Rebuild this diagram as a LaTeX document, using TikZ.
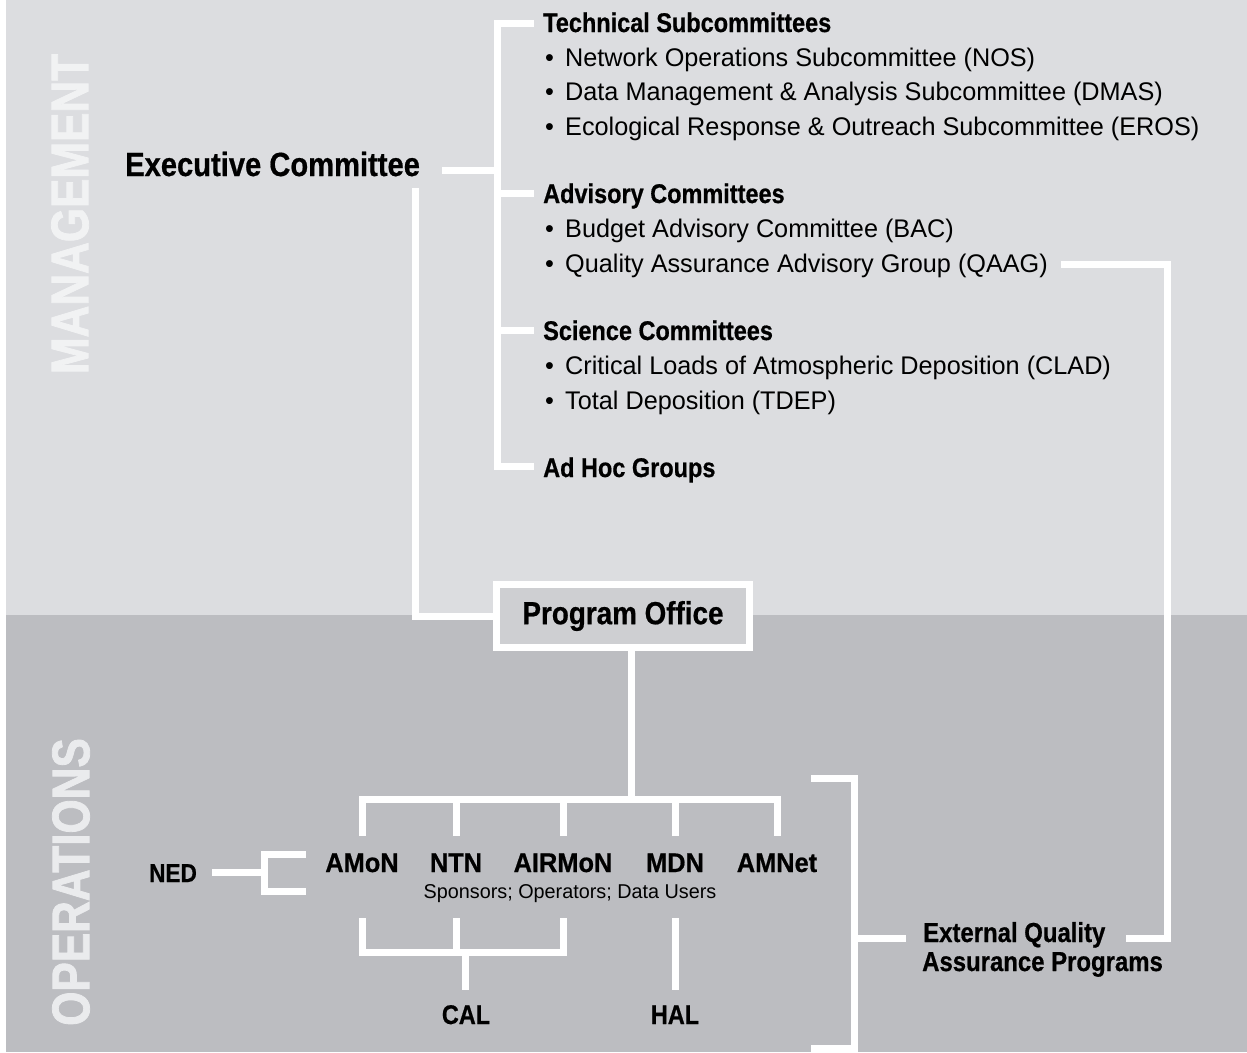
\documentclass[tikz,border=0pt]{standalone}
\usepackage{fontspec}
\setmainfont{Liberation Sans}
\newfontfamily\bcond{Liberation Sans Bold}[FakeStretch=0.87,FakeBold=0.6]
\newfontfamily\bnet{Liberation Sans Bold}[FakeStretch=0.94,FakeBold=0.6]
\newfontfamily\bside{Liberation Sans Bold}[FakeStretch=0.83,FakeBold=1.5]
\newfontfamily\rcond{Liberation Sans}[FakeStretch=0.99]
\definecolor{bgtop}{HTML}{DCDDE0}
\definecolor{bgbot}{HTML}{BCBDC1}
\definecolor{pofill}{HTML}{CECFD2}
\definecolor{sidetop}{HTML}{F1F2F3}
\definecolor{sidebot}{HTML}{EAEBED}
\newcommand{\bul}{\makebox[20pt][l]{•}}
\begin{document}
\begin{tikzpicture}[x=1pt,y=-1pt,
  wl/.style={draw=white,line width=7pt,line join=miter},
  head/.style={anchor=base west,inner sep=0pt,font=\bcond\fontsize{27}{30}\selectfont},
  item/.style={anchor=base west,inner sep=0pt,font=\rcond\fontsize{25.5}{30}\selectfont},
  net/.style={anchor=base,inner sep=0pt,font=\bnet\fontsize{27}{30}\selectfont},
  side/.style={rotate=90,inner sep=0pt,font=\bside\fontsize{53}{60}\selectfont}]
\useasboundingbox (0,0) rectangle (1247,1052);
\fill[white] (0,0) rectangle (1247,1052);
\fill[bgtop] (6,0) rectangle (1247,615);
\fill[bgbot] (6,615) rectangle (1247,1052);

% side labels
\node[side,text=sidetop] (mgmt) at (70,214) {MANAGEMENT};
\node[side,text=sidebot] (ops) at (71,882) {OPERATIONS};

% management
\node[head,font=\bcond\fontsize{33.5}{36}\selectfont] (exec) at (125,176) {Executive Committee};
\node[head] (tech) at (543,32) {Technical Subcommittees};
\node[item] (nos) at (545,66) {\bul Network Operations Subcommittee (NOS)};
\node[item] (dmas) at (545,100) {\bul Data Management \& Analysis Subcommittee (DMAS)};
\node[item] (eros) at (545,135) {\bul Ecological Response \& Outreach Subcommittee (EROS)};
\node[head] (adv) at (543,203) {Advisory Committees};
\node[item] (bac) at (545,237) {\bul Budget Advisory Committee (BAC)};
\node[item] (qaag) at (545,272) {\bul Quality Assurance Advisory Group (QAAG)};
\node[head] (sci) at (543,340) {Science Committees};
\node[item] (clad) at (545,374) {\bul Critical Loads of Atmospheric Deposition (CLAD)};
\node[item] (tdep) at (545,409) {\bul Total Deposition (TDEP)};
\node[head] (adhoc) at (543,477) {Ad Hoc Groups};

% program office
\node[draw=white,line width=7pt,fill=pofill,minimum width=253pt,minimum height=63pt,inner sep=0pt,
      font=\bcond\fontsize{32}{34}\selectfont] (po) at (623,616) {Program Office};

% operations labels
\node[net] (amon) at (362,872) {AMoN};
\node[net] (ntn) at (456,872) {NTN};
\node[net] (airmon) at (563,872) {AIRMoN};
\node[net] (mdn) at (675,872) {MDN};
\node[net] (amnet) at (777,872) {AMNet};
\node[anchor=base,inner sep=0pt,font=\rcond\fontsize{20}{22}\selectfont] (spons) at (570,898) {Sponsors; Operators; Data Users};
\node[anchor=base,inner sep=0pt,font=\bcond\fontsize{26}{28}\selectfont] (ned) at (173,882) {NED};
\node[anchor=base,inner sep=0pt,font=\bcond\fontsize{27}{28}\selectfont] (cal) at (466,1024) {CAL};
\node[anchor=base,inner sep=0pt,font=\bcond\fontsize{27}{28}\selectfont] (hal) at (675,1024) {HAL};
\node[anchor=base west,inner sep=0pt,font=\bcond\fontsize{27.5}{29}\selectfont] (eqa1) at (923,942) {External Quality};
\node[anchor=base west,inner sep=0pt,font=\bcond\fontsize{27.5}{29}\selectfont] (eqa2) at (922,971) {Assurance Programs};

% junction coordinates
\coordinate (execR) at (442,170);
\coordinate (trunkE) at (497,170);
\coordinate (techL) at (534,23);
\coordinate (advL) at (534,193);
\coordinate (sciL) at (534,330);
\coordinate (adhocL) at (534,466);
\coordinate (execD) at (415.5,188);
\coordinate (poD) at (631,651);
\coordinate (barM) at (631,799);
\coordinate (amonT) at (362,836);
\coordinate (ntnT) at (456,836);
\coordinate (airmonT) at (563,836);
\coordinate (mdnT) at (675.5,836);
\coordinate (amnetT) at (777,836);
\coordinate (amonB) at (362,918);
\coordinate (ntnB) at (456,918);
\coordinate (airmonB) at (563,918);
\coordinate (calJ) at (465,952);
\coordinate (calT) at (465,990);
\coordinate (mdnB) at (675.5,918);
\coordinate (halT) at (675.5,990);
\coordinate (nedR) at (212,872);
\coordinate (nedJ) at (264,872);
\coordinate (nedU) at (306,854);
\coordinate (nedL) at (306,891);
\coordinate (brT) at (811,778);
\coordinate (brB) at (811,1048);
\coordinate (brM) at (854,938);
\coordinate (eqaL) at (906,938);
\coordinate (qaagR) at (1061,264);
\coordinate (eqaR) at (1126,938);

% management connectors
\draw[wl] (techL) -- (497,23) -- (497,466) -- (adhocL);
\draw[wl] (497,193) -- (advL);
\draw[wl] (497,330) -- (sciL);
\draw[wl] (execR) -- (trunkE);
\draw[wl] (execD) |- (po.west);

% operations connectors
\draw[wl] (poD) -- (barM);
\draw[wl] (amonT) -- (362,799) -- (777,799) -- (amnetT);
\draw[wl] (ntnT) -- (ntnT |- barM);
\draw[wl] (airmonT) -- (airmonT |- barM);
\draw[wl] (mdnT) -- (mdnT |- barM);
\draw[wl] (amonB) -- (amonB |- calJ) -- (airmonB |- calJ) -- (airmonB);
\draw[wl] (ntnB) -- (ntnB |- calJ);
\draw[wl] (calJ) -- (calT);
\draw[wl] (mdnB) -- (halT);
\draw[wl] (nedR) -- (nedJ);
\draw[wl] (nedU) -- (264,854) -- (264,891) -- (nedL);
\draw[wl] (brT) -- (854,778) -- (854,1048) -- (brB);
\draw[wl] (brM) -- (eqaL);
\draw[wl] (qaagR) -- (1167,264) -- (1167,938) -- (eqaR);
\end{tikzpicture}
\end{document}
